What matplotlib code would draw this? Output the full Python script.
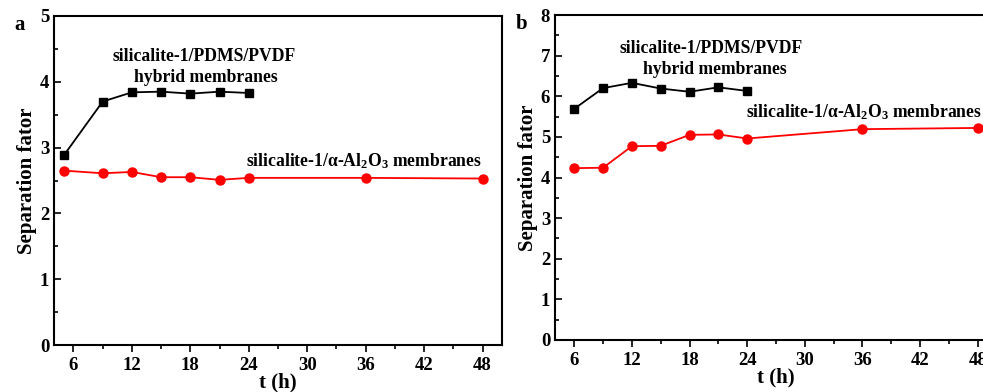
import matplotlib.pyplot as plt
from matplotlib.ticker import MultipleLocator

plt.rcParams["font.family"] = ["Liberation Serif", "DejaVu Serif"]
plt.rcParams["font.weight"] = "bold"
plt.rcParams["mathtext.fontset"] = "custom"
plt.rcParams["mathtext.rm"] = "Liberation Serif:bold"
plt.rcParams["mathtext.it"] = "Liberation Serif:bold"
plt.rcParams["mathtext.bf"] = "Liberation Serif:bold"

# panel a
t_hybrid_a = [5, 9, 12, 15, 18, 21, 24]
sf_hybrid_a = [2.88, 3.70, 3.84, 3.85, 3.82, 3.85, 3.83]
t_al2o3_a = [5, 9, 12, 15, 18, 21, 24, 36, 48]
sf_al2o3_a = [2.65, 2.61, 2.63, 2.55, 2.55, 2.51, 2.54, 2.54, 2.53]

# panel b
t_hybrid_b = [6, 9, 12, 15, 18, 21, 24]
sf_hybrid_b = [5.69, 6.20, 6.33, 6.19, 6.11, 6.22, 6.13]
t_al2o3_b = [6, 9, 12, 15, 18, 21, 24, 36, 48]
sf_al2o3_b = [4.23, 4.24, 4.77, 4.78, 5.05, 5.06, 4.96, 5.19, 5.22]

xticks = [6, 12, 18, 24, 30, 36, 42, 48]
hybrid_label = "silicalite-1/PDMS/PVDF"
hybrid_label2 = "hybrid membranes"
al2o3_label = r"silicalite-1/$\alpha$-Al$_2$O$_3$ membranes"

W, H = 983, 392
fig = plt.figure(figsize=(W / 100, H / 100), dpi=100)


def px_axes(x0, y0, x1, y1):
    return fig.add_axes([x0 / W, 1 - y1 / H, (x1 - x0) / W, (y1 - y0) / H])


def style(ax, ymax):
    ax.set_xlim(4, 50)
    ax.set_ylim(0, ymax)
    ax.set_xticks(xticks)
    ax.xaxis.set_minor_locator(MultipleLocator(3))
    ax.yaxis.set_major_locator(MultipleLocator(1))
    ax.yaxis.set_minor_locator(MultipleLocator(0.5))
    ax.tick_params(axis="y", which="both", direction="in", width=1.2)
    ax.tick_params(axis="x", which="both", direction="out", width=1.2)
    ax.tick_params(which="major", length=5, labelsize=13.5)
    ax.tick_params(which="minor", length=3)
    for s in ax.spines.values():
        s.set_linewidth(1.5)
    ax.set_xlabel("t (h)", fontsize=15, fontweight="bold", labelpad=-1)
    ax.set_ylabel("Separation fator", fontsize=15, fontweight="bold", labelpad=2)


TXT = 12.7

ax_a = px_axes(54, 16, 502, 345)
ax_a.plot(t_hybrid_a, sf_hybrid_a, "-s", color="black", lw=1.3, ms=5.5)
ax_a.plot(t_al2o3_a, sf_al2o3_a, "-o", color="red", lw=1.3, ms=6.5)
style(ax_a, 5)
ax_a.text(19.4, 4.38, hybrid_label, ha="center", va="center", fontsize=TXT, fontweight="bold")
ax_a.text(19.6, 4.06, hybrid_label2, ha="center", va="center", fontsize=TXT, fontweight="bold")
ax_a.text(35.8, 2.80, al2o3_label, ha="center", va="center", fontsize=TXT, fontweight="bold")
fig.text(14 / W, 1 - 25 / H, "a", fontsize=15, fontweight="bold", va="center")

ax_b = px_axes(555, 15, 997, 340)
ax_b.plot(t_hybrid_b, sf_hybrid_b, "-s", color="black", lw=1.3, ms=5.5)
ax_b.plot(t_al2o3_b, sf_al2o3_b, "-o", color="red", lw=1.3, ms=6.5)
style(ax_b, 8)
ax_b.text(20.3, 7.18, hybrid_label, ha="center", va="center", fontsize=TXT, fontweight="bold")
ax_b.text(20.6, 6.65, hybrid_label2, ha="center", va="center", fontsize=TXT, fontweight="bold")
ax_b.text(36.1, 5.60, al2o3_label, ha="center", va="center", fontsize=TXT, fontweight="bold")
fig.text(516 / W, 1 - 24 / H, "b", fontsize=15, fontweight="bold", va="center")

fig.savefig("out.png", dpi=100)
